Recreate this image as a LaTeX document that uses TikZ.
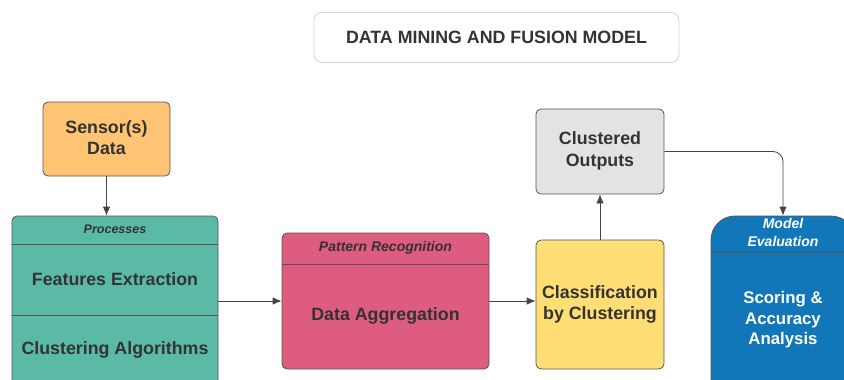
\documentclass[tikz,border=0pt]{standalone}
\usepackage{fontspec}
\setmainfont{Liberation Sans}
\usetikzlibrary{arrows.meta}

\definecolor{ink}{HTML}{333333}
\definecolor{edge}{HTML}{555555}
\definecolor{wire}{HTML}{444444}
\definecolor{sensorfill}{HTML}{FFC374}
\definecolor{procfill}{HTML}{5BBAA5}
\definecolor{patfill}{HTML}{DE5C80}
\definecolor{clsfill}{HTML}{FFDE75}
\definecolor{clusfill}{HTML}{E3E3E3}
\definecolor{modelfill}{HTML}{1177B9}
\definecolor{titleedge}{HTML}{D2D2D2}

\tikzset{
  box/.style={draw=edge, line width=0.8pt, rounded corners=5pt, inner sep=0pt},
  bigtext/.style={font=\fontsize{17.8}{21.5}\selectfont\bfseries, text=ink, align=center},
  headtext/.style={font=\fontsize{14}{17.5}\selectfont\bfseries\itshape, text=ink, align=center},
  flow/.style={draw=wire, line width=0.8pt, -{Latex[length=9pt,width=7.5pt]}},
  divider/.style={draw=edge, line width=0.8pt}
}

\begin{document}
\begin{tikzpicture}[x=1pt,y=-1pt]
\useasboundingbox (0,0) rectangle (844,380);
\clip (0,0) rectangle (844,380);

% title banner
\node[draw=titleedge, line width=0.8pt, rounded corners=8pt, fill=white,
      minimum width=365pt, minimum height=50pt, bigtext] (title) at (496.5,37.5)
      {DATA MINING AND FUSION MODEL};

% sensor input
\node[box, fill=sensorfill, minimum width=127pt, minimum height=74pt]
      (sensor) at (106.5,139) {};
\node[bigtext] (sensortext) at (106.5,137.5) {Sensor(s)\\Data};

% processes block (runs past the lower edge)
\node[box, fill=procfill, minimum width=206pt, minimum height=184pt] (proc) at (115,308) {};
\draw[divider] ([yshift=-29pt]proc.north west) -- ([yshift=-29pt]proc.north east);
\node[headtext, font=\fontsize{12.5}{15}\selectfont\bfseries\itshape] (prochead) at (115,229.5) {Processes};
\draw[divider] ([yshift=-100pt]proc.north west) -- ([yshift=-100pt]proc.north east);
\node[bigtext] (feat) at (115,279) {Features Extraction};
\node[bigtext] (algo) at (115,349.5) {Clustering Algorithms};

% pattern recognition block
\node[box, fill=patfill, minimum width=207pt, minimum height=136pt] (pat) at (385.5,301) {};
\draw[divider] ([yshift=-32pt]pat.north west) -- ([yshift=-32pt]pat.north east);
\node[headtext] (pathead) at (385.5,248) {Pattern Recognition};
\node[bigtext] (agg) at (385.5,315.5) {Data Aggregation};

% classification
\node[box, fill=clsfill, minimum width=128pt, minimum height=129pt]
      (cls) at (600,304.5) {};
\node[bigtext] (clstext) at (600,304.5) {Classification\\by Clustering};

% clustered outputs
\node[box, fill=clusfill, minimum width=128pt, minimum height=85pt]
      (clus) at (600,151.5) {};
\node[bigtext] (clustext) at (600,151) {Clustered\\Outputs};

% model evaluation block (runs past the right and lower edges)
\node[box, fill=modelfill, rounded corners=24pt, minimum width=144pt, minimum height=204pt]
      (model) at (783,318) {};
\draw[divider] ([yshift=-37pt]model.north west) -- ([yshift=-37pt]model.north east);
\node[headtext, text=white, font=\fontsize{14}{17.5}\selectfont\bfseries\itshape]
      (modelhead) at (783,232.5) {Model\\Evaluation};
\node[bigtext, text=white, font=\fontsize{16.8}{20.5}\selectfont\bfseries]
      (score) at (783,320) {Scoring \&\\Accuracy\\Analysis};

% connectors
\draw[flow] (sensor.south) -- (sensor.south |- proc.north);
\draw[flow] (proc.east |- pat.west) -- (pat.west);
\draw[flow] (pat.east) -- (pat.east -| cls.west);
\draw[flow] (cls.north) -- (clus.south);
\draw[flow, rounded corners=10pt] (clus.east) -| (model.north);

\end{tikzpicture}
\end{document}
